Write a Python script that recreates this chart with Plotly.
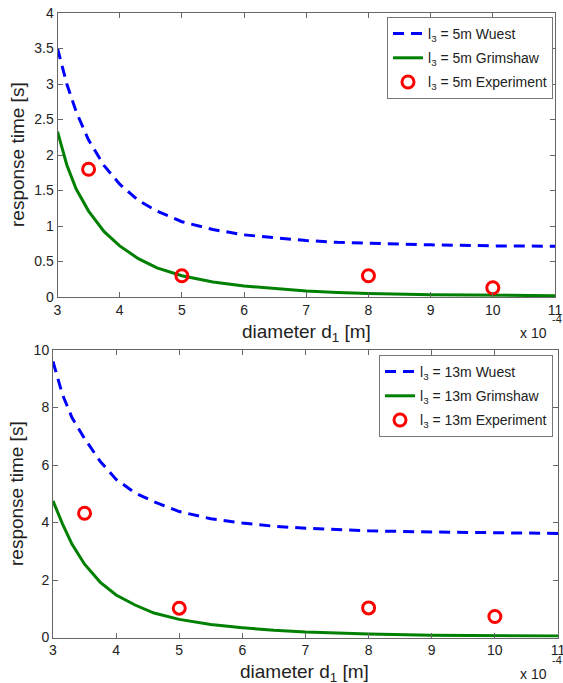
import plotly.graph_objects as go

W, H = 563, 683

# diameter d1 in units of 1e-4 m
d_curve = [3.0, 3.15, 3.3, 3.5, 3.75, 4.0, 4.3, 4.6, 5.0, 5.5, 6.0, 6.5, 7.0, 7.5, 8.0, 9.0, 10.0, 11.0]

wuest_5m = [3.50, 3.00, 2.61, 2.21, 1.85, 1.59, 1.36, 1.21, 1.06, 0.95, 0.875, 0.83, 0.795, 0.77, 0.755, 0.735, 0.72, 0.715]
grimshaw_5m = [2.33, 1.86, 1.52, 1.21, 0.92, 0.72, 0.54, 0.41, 0.30, 0.21, 0.155, 0.115, 0.085, 0.065, 0.05, 0.032, 0.022, 0.018]

wuest_13m = [9.6, 8.45, 7.65, 6.92, 6.12, 5.5, 5.03, 4.72, 4.38, 4.13, 3.98, 3.87, 3.80, 3.75, 3.71, 3.67, 3.645, 3.62]
grimshaw_13m = [4.75, 3.95, 3.25, 2.55, 1.92, 1.48, 1.13, 0.85, 0.63, 0.45, 0.34, 0.25, 0.19, 0.15, 0.12, 0.08, 0.06, 0.05]

d_exp = [3.5, 5.0, 8.0, 10.0]
exp_5m = [1.80, 0.30, 0.30, 0.13]
exp_13m = [4.32, 1.02, 1.03, 0.73]

x_ticks = [3, 4, 5, 6, 7, 8, 9, 10, 11]
y_ticks_top = [0, 0.5, 1, 1.5, 2, 2.5, 3, 3.5, 4]
y_ticks_bot = [0, 2, 4, 6, 8, 10]

BLUE = "rgb(0,0,255)"
GREEN = "rgb(0,128,0)"
RED = "rgb(255,0,0)"
FONT = "Liberation Sans, Arial, sans-serif"


def fx(px):
    return px / W


def fy(py):
    return 1 - py / H


fig = go.Figure()

# top panel
fig.add_trace(go.Scatter(x=d_curve, y=wuest_5m, mode="lines", name="l<sub>3</sub> = 5m Wuest", legendgroup="a1",
                         line=dict(color=BLUE, width=3, dash="11px,7px"), xaxis="x", yaxis="y", legend="legend"))
fig.add_trace(go.Scatter(x=d_curve, y=grimshaw_5m, mode="lines", name="l<sub>3</sub> = 5m Grimshaw", legendgroup="a2",
                         line=dict(color=GREEN, width=3), xaxis="x", yaxis="y", legend="legend"))
fig.add_trace(go.Scatter(x=d_exp, y=exp_5m, mode="markers", name="l<sub>3</sub> = 5m Experiment", legendgroup="a3",
                         marker=dict(symbol="circle-open", size=12, color=RED, line=dict(width=3, color=RED)),
                         xaxis="x", yaxis="y", legend="legend"))

# bottom panel
fig.add_trace(go.Scatter(x=d_curve, y=wuest_13m, mode="lines", name="l<sub>3</sub> = 13m Wuest", legendgroup="b1",
                         line=dict(color=BLUE, width=3, dash="11px,7px"), xaxis="x2", yaxis="y2", legend="legend2"))
fig.add_trace(go.Scatter(x=d_curve, y=grimshaw_13m, mode="lines", name="l<sub>3</sub> = 13m Grimshaw", legendgroup="b2",
                         line=dict(color=GREEN, width=3), xaxis="x2", yaxis="y2", legend="legend2"))
fig.add_trace(go.Scatter(x=d_exp, y=exp_13m, mode="markers", name="l<sub>3</sub> = 13m Experiment", legendgroup="b3",
                         marker=dict(symbol="circle-open", size=12, color=RED, line=dict(width=3, color=RED)),
                         xaxis="x2", yaxis="y2", legend="legend2"))

axis_common = dict(showline=True, linecolor="#666", linewidth=1, mirror="ticks", ticks="inside",
                   ticklen=5, tickcolor="#666", showgrid=False, zeroline=False, automargin=False,
                   ticklabeloverflow="allow",
                   tickfont=dict(family=FONT, size=14, color="#222"))

legend_common = dict(bgcolor="white", bordercolor="#777", borderwidth=1,
                     font=dict(family=FONT, size=14, color="#222"),
                     xanchor="right", yanchor="top", tracegroupgap=3, itemwidth=30)

fig.update_layout(
    width=W, height=H,
    margin=dict(l=0, r=0, t=0, b=0, autoexpand=False),
    paper_bgcolor="white", plot_bgcolor="white",
    showlegend=True,
    xaxis=dict(domain=[fx(57.5), fx(555)], range=[3, 11], tickvals=x_ticks, anchor="y", **axis_common),
    yaxis=dict(domain=[fy(297), fy(13)], range=[0, 4], tickvals=y_ticks_top,
               ticktext=[f"{v:g}" for v in y_ticks_top], anchor="x", **axis_common),
    xaxis2=dict(domain=[fx(53), fx(558)], range=[3, 11], tickvals=x_ticks, anchor="y2", **axis_common),
    yaxis2=dict(domain=[fy(637.5), fy(350)], range=[0, 10], tickvals=y_ticks_bot, anchor="x2", **axis_common),
    legend=dict(x=fx(553), y=fy(17), **legend_common),
    legend2=dict(x=fx(553), y=fy(355), **legend_common),
)

title_font = dict(family=FONT, size=19, color="#222")
small_font = dict(family=FONT, size=14, color="#222")
annotations = [
    dict(text="diameter d<sub>1</sub> [m]", x=fx(306), y=fy(333), xanchor="center", yanchor="middle", font=title_font),
    dict(text="diameter d<sub>1</sub> [m]", x=fx(304), y=fy(673), xanchor="center", yanchor="middle", font=title_font),
    dict(text="response time [s]", x=fx(18), y=fy(155), textangle=-90, xanchor="center", yanchor="middle", font=title_font),
    dict(text="response time [s]", x=fx(16), y=fy(494), textangle=-90, xanchor="center", yanchor="middle", font=title_font),
    dict(text="x 10", x=fx(549), y=fy(333), xanchor="right", yanchor="middle", font=small_font),
    dict(text="-4", x=fx(550), y=fy(319), xanchor="left", yanchor="middle", font=dict(family=FONT, size=11, color="#222")),
    dict(text="x 10", x=fx(549), y=fy(674), xanchor="right", yanchor="middle", font=small_font),
    dict(text="-4", x=fx(550), y=fy(660), xanchor="left", yanchor="middle", font=dict(family=FONT, size=11, color="#222")),
]
for a in annotations:
    a.update(xref="paper", yref="paper", showarrow=False)
fig.update_layout(annotations=annotations)

# remove the page's default 8px body margin so the figure sits at the window corner
fig.write_html("out.html", config={"displayModeBar": False},
               post_script="document.body.style.margin='0';document.body.style.overflow='hidden';")
